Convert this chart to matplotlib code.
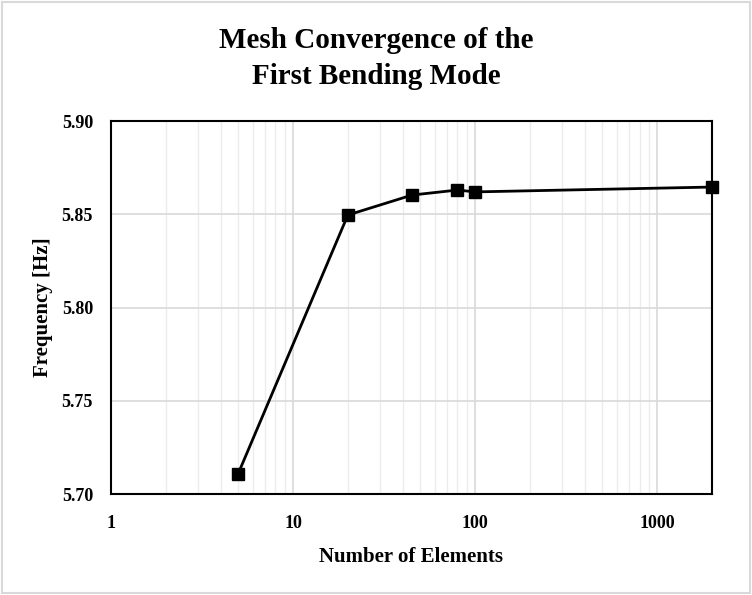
import numpy as np
import matplotlib.pyplot as plt
from matplotlib.patches import Rectangle

# data
elements = [5, 20, 45, 80, 100, 2000]
frequency = [5.711, 5.8496, 5.8603, 5.863, 5.862, 5.8646]
yticks = [5.70, 5.75, 5.80, 5.85, 5.90]
xticks = [1, 10, 100, 1000]

plt.rcParams['font.family'] = ['Liberation Serif', 'DejaVu Serif']
plt.rcParams['font.weight'] = 'bold'

fig = plt.figure(figsize=(7.52, 5.95), dpi=100)
ax = fig.add_axes([0.1476, 0.1697, 0.7992, 0.6269])

# light gray frame round the whole picture
fig.patches.append(Rectangle((0.002, 0.003), 0.996, 0.994, transform=fig.transFigure,
                             fill=False, edgecolor='#d9d9d9', linewidth=1.5))

ax.plot(elements, frequency, color='black', marker='s', markersize=8, linewidth=2, zorder=3, clip_on=False)

ax.set_xscale('log')
ax.set_xlim(1, 2000)
ax.set_ylim(5.70, 5.90)
ax.set_xticks(xticks)
ax.set_xticklabels([str(t) for t in xticks])
ax.set_yticks(yticks)
ax.set_yticklabels(['%.2f' % t for t in yticks])
ax.tick_params(which='both', length=0, labelsize=13)
ax.tick_params(axis='y', pad=13)
ax.tick_params(axis='x', pad=15)

ax.grid(which='major', color='#d9d9d9', linewidth=1.2)
ax.grid(which='minor', axis='x', color='#ececec', linewidth=1)
ax.set_axisbelow(True)

for s in ax.spines.values():
    s.set_color('black')
    s.set_linewidth(1.5)

ax.set_xlabel('Number of Elements', fontsize=15, fontweight='bold', labelpad=11)
ax.set_ylabel('Frequency [Hz]', fontsize=15, fontweight='bold', labelpad=6)
fig.text(0.5, 0.955, 'Mesh Convergence of the\nFirst Bending Mode', ha='center', va='top',
         fontsize=21, fontweight='bold', linespacing=1.45)

fig.savefig('out.png', dpi=100)
